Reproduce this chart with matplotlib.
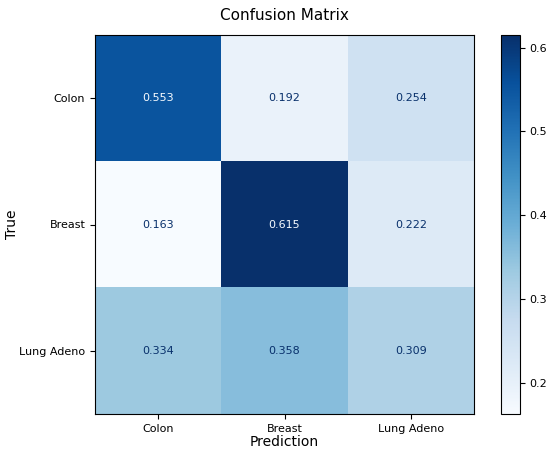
import numpy as np
import matplotlib.pyplot as plt

# class labels and normalised confusion values (rows = true, cols = predicted)
labels = ['Colon', 'Breast', 'Lung Adeno']
row_colon = [0.553, 0.192, 0.254]
row_breast = [0.163, 0.615, 0.222]
row_lung = [0.334, 0.358, 0.309]

cm = np.array([row_colon, row_breast, row_lung])

fig = plt.figure(figsize=(5.5, 4.53), dpi=100)
ax = fig.add_axes([95 / 550, 1 - 414 / 453, 379 / 550, 379 / 453])
cax = fig.add_axes([501 / 550, 1 - 414 / 453, 18.5 / 550, 379 / 453])

cmap = plt.get_cmap('Blues')
im = ax.imshow(cm, cmap=cmap, aspect='auto')
cb = fig.colorbar(im, cax=cax)
cb.ax.tick_params(labelsize=8)
cb.outline.set_linewidth(0.8)

# text colour like sklearn: light text on dark cells, dark text on light cells
thresh = (cm.max() + cm.min()) / 2
for i in range(cm.shape[0]):
    for j in range(cm.shape[1]):
        color = cmap(0) if cm[i, j] > thresh else cmap(1.0)
        ax.text(j, i, f'{cm[i, j]:.3f}', ha='center', va='center', color=color, fontsize=8)

ax.set_xticks(range(len(labels)))
ax.set_yticks(range(len(labels)))
ax.set_xticklabels(labels, fontsize=8)
ax.set_yticklabels(labels, fontsize=8)
ax.set_xlabel('Prediction', fontsize=10, labelpad=1)
ax.set_ylabel('True', fontsize=10)
ax.yaxis.set_label_coords(-0.2, 0.5)
ax.set_title('Confusion Matrix', fontsize=11, pad=11)

plt.savefig('out.png', dpi=100)
